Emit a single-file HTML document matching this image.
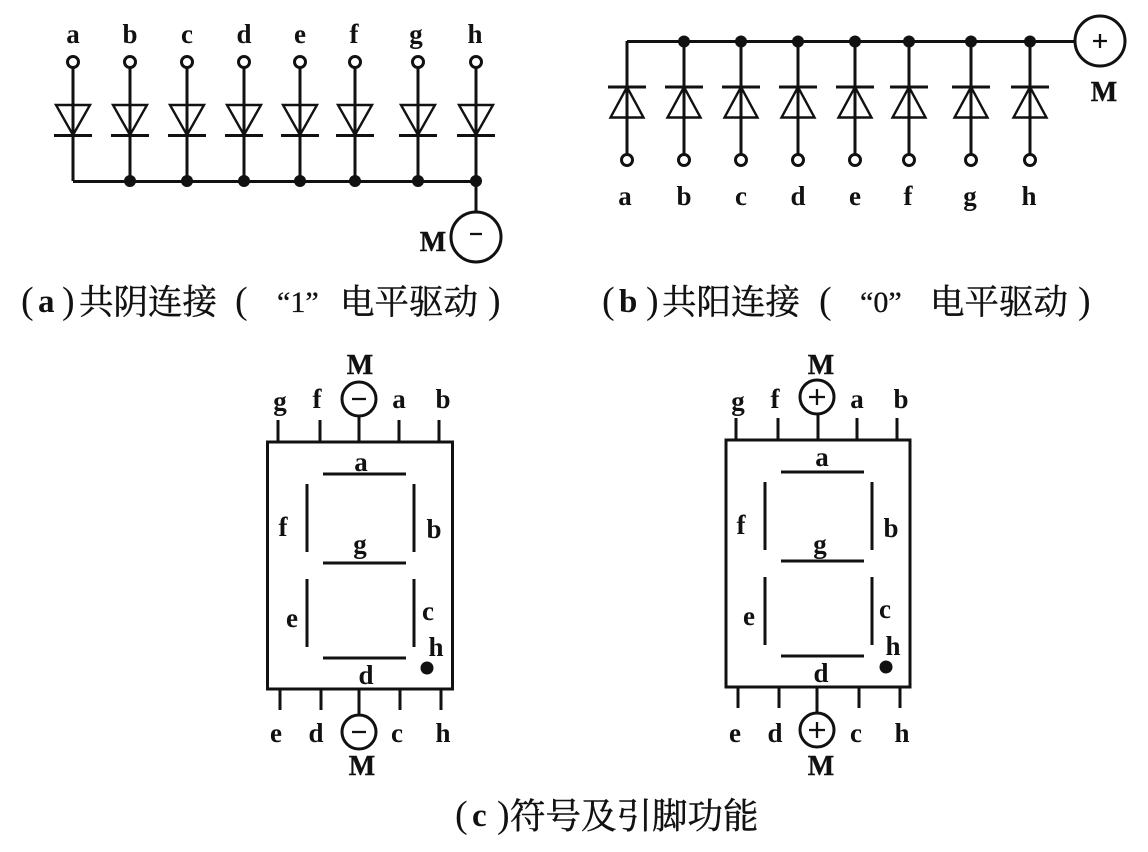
<!DOCTYPE html>
<html><head><meta charset="utf-8">
<style>
html,body{margin:0;padding:0;background:#fff;width:1148px;height:852px;overflow:hidden}
svg{display:block}
.l{font:bold 27px "Liberation Serif","Noto Serif CJK SC",serif;fill:#111;text-anchor:middle}
.m{font:bold 28px "Liberation Serif",serif;fill:#111;text-anchor:middle;stroke:#111;stroke-width:.4px}
.c{font:34.5px "Noto Serif CJK SC","Liberation Serif",serif;fill:#111;stroke:#111;stroke-width:.45px}
.p{font:bold 33px "Liberation Serif",serif;fill:#111}
.q{font:38px "Liberation Serif",serif;fill:#111}
.t{font:30px "Liberation Serif",serif;fill:#111;stroke:#111;stroke-width:.3px}
.s{stroke:#111;stroke-width:3px;fill:none}
.n{stroke:#111;stroke-width:2.3px;fill:none}
.tr{stroke:#111;stroke-width:2.4px;fill:none}
</style></head><body>
<svg width="1148" height="852" viewBox="0 0 1148 852" xmlns="http://www.w3.org/2000/svg">
<rect width="1148" height="852" fill="#fff"/>
<defs>
<g id="da"><path class="s" d="M0 67V181"/><path class="tr" d="M-17 105H17L0 135Z"/><path class="s" d="M-19 135.5H19"/><circle class="s" cx="0" cy="62" r="5.5" fill="#fff"/></g>
<g id="db"><path class="s" d="M0 41V155"/><path class="tr" d="M-16.5 117.5H16.5L0 87Z"/><path class="s" d="M-19 87H19"/><circle class="s" cx="0" cy="160" r="5.5" fill="#fff"/></g>
<g id="seg"><path class="s" d="M0 0H83M0 89H83M0 184H83M-16 10V78M-16 105V173M91 10V78M91 105V173"/></g>
</defs>

<!-- panel a -->
<use href="#da" x="73"/><use href="#da" x="130"/><use href="#da" x="187"/><use href="#da" x="244"/>
<use href="#da" x="300"/><use href="#da" x="355"/><use href="#da" x="418"/><use href="#da" x="476"/>
<path class="s" d="M73 181.5H476M476 181V212"/>
<g fill="#111"><circle cx="130" cy="181" r="6"/><circle cx="187" cy="181" r="6"/><circle cx="244" cy="181" r="6"/><circle cx="300" cy="181" r="6"/><circle cx="355" cy="181" r="6"/><circle cx="418" cy="181" r="6"/><circle cx="476" cy="181" r="6"/></g>
<circle class="s" cx="476" cy="237" r="25"/><path class="n" d="M470 234H482"/>
<g class="l"><text x="73" y="43">a</text><text x="130" y="43">b</text><text x="187" y="43">c</text><text x="244" y="43">d</text><text x="300" y="43">e</text><text x="354" y="43">f</text><text x="416" y="43">g</text><text x="475" y="43">h</text></g>
<text class="m" x="433" y="251">M</text>
<text class="q" x="21" y="313">(</text><text class="p" x="38" y="312">a</text><text class="q" x="62" y="313">)</text>
<text class="c" x="79" y="314">共阴连接</text>
<text class="q" x="235" y="313">(</text>
<text class="t" x="277" y="312">“1”</text>
<text class="c" x="340" y="314">电平驱动</text>
<text class="q" x="488" y="313">)</text>

<!-- panel b -->
<use href="#db" x="627"/><use href="#db" x="684"/><use href="#db" x="741"/><use href="#db" x="798"/>
<use href="#db" x="855"/><use href="#db" x="909"/><use href="#db" x="971"/><use href="#db" x="1030"/>
<path class="s" d="M627 41.5H1075"/>
<g fill="#111"><circle cx="684" cy="41.5" r="6"/><circle cx="741" cy="41.5" r="6"/><circle cx="798" cy="41.5" r="6"/><circle cx="855" cy="41.5" r="6"/><circle cx="909" cy="41.5" r="6"/><circle cx="971" cy="41.5" r="6"/><circle cx="1030" cy="41.5" r="6"/></g>
<circle class="s" cx="1100" cy="41" r="25"/><path class="n" d="M1093 41H1107M1100 34V48"/>
<text class="m" x="1104" y="101">M</text>
<g class="l"><text x="625" y="205">a</text><text x="684" y="205">b</text><text x="741" y="205">c</text><text x="798" y="205">d</text><text x="855" y="205">e</text><text x="908" y="205">f</text><text x="970" y="205">g</text><text x="1029" y="205">h</text></g>
<text class="q" x="602" y="313">(</text><text class="p" x="619" y="312">b</text><text class="q" x="646" y="313">)</text>
<text class="c" x="662" y="314">共阳连接</text>
<text class="q" x="819" y="313">(</text>
<text class="t" x="860" y="312">“0”</text>
<text class="c" x="930" y="314">电平驱动</text>
<text class="q" x="1078" y="313">)</text>

<!-- panel c left -->
<rect class="s" x="267.5" y="442" width="185" height="247"/>
<path class="s" d="M278 420V442M320 420V442M359 416V442M399 420V442M439 420V442M280 689V710M321 689V710M359 689V715M400 689V710M441 689V710"/>
<use href="#seg" x="323" y="474"/>
<circle cx="427" cy="668" r="6.5" fill="#111"/>
<circle class="s" cx="359" cy="399" r="17" fill="#fff"/><path class="n" d="M352 399H366"/>
<circle class="s" cx="359" cy="732" r="17" fill="#fff"/><path class="n" d="M352 732H366"/>
<g class="l"><text x="280" y="410">g</text><text x="317" y="408">f</text><text x="399" y="408">a</text><text x="443" y="408">b</text>
<text x="361" y="471">a</text><text x="283" y="536">f</text><text x="434" y="538">b</text><text x="360" y="553">g</text><text x="292" y="627">e</text><text x="428" y="620">c</text><text x="436" y="656">h</text><text x="366" y="684">d</text>
<text x="276" y="742">e</text><text x="316" y="742">d</text><text x="397" y="742">c</text><text x="443" y="742">h</text></g>
<text class="m" x="360" y="374">M</text><text class="m" x="362" y="775">M</text>

<!-- panel c right -->
<rect class="s" x="726" y="440" width="184" height="247"/>
<path class="s" d="M736 418V440M778 418V440M818 414V440M857 418V440M897 418V440M738 687V708M779 687V708M817 687V713M859 687V708M900 687V708"/>
<use href="#seg" x="781" y="472"/>
<circle cx="886" cy="667" r="6.5" fill="#111"/>
<circle class="s" cx="817" cy="397" r="17" fill="#fff"/><path class="n" d="M809 397H825M817 389V405"/>
<circle class="s" cx="817" cy="730" r="17" fill="#fff"/><path class="n" d="M809 730H825M817 722V738"/>
<g class="l"><text x="738" y="410">g</text><text x="775" y="408">f</text><text x="857" y="408">a</text><text x="901" y="408">b</text>
<text x="822" y="466">a</text><text x="741" y="534">f</text><text x="891" y="537">b</text><text x="820" y="553">g</text><text x="749" y="625">e</text><text x="885" y="618">c</text><text x="893" y="655">h</text><text x="821" y="682">d</text>
<text x="735" y="742">e</text><text x="775" y="742">d</text><text x="856" y="742">c</text><text x="902" y="742">h</text></g>
<text class="m" x="821" y="374">M</text><text class="m" x="821" y="775">M</text>

<!-- caption c -->
<text class="q" x="455" y="827">(</text><text class="p" x="472" y="826">c</text><text class="q" x="497" y="827">)</text>
<text class="c" x="510" y="828" style="font-size:35.5px">符号及引脚功能</text>
</svg>
</body></html>
